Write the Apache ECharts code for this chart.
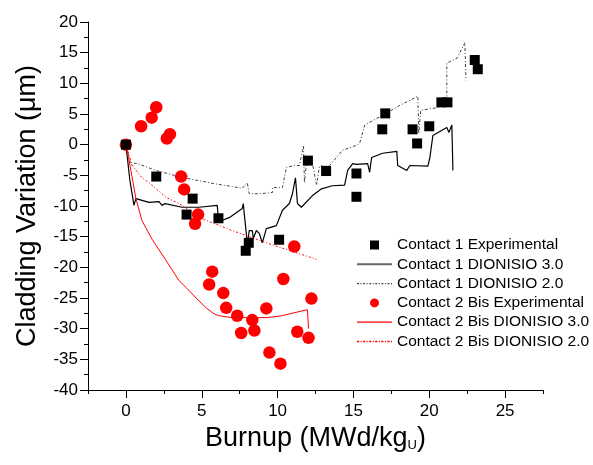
<!DOCTYPE html>
<html>
<head>
<meta charset="utf-8">
<script src="https://cdn.jsdelivr.net/npm/echarts@6/dist/echarts.min.js"></script>
<style>html,body{margin:0;padding:0;background:#fff}#c{width:593px;height:465px}</style>
</head>
<body>
<div id="c"></div>
<script>
// ---- data (burnup MWd/kgU, cladding variation µm) ----
const c1Exp = [[0,0],[2.0,-5.2],[4.4,-8.8],[4.0,-11.4],[6.1,-12.0],[8.1,-16.0],[7.9,-17.3],[10.1,-15.5],[12.0,-2.6],[13.2,-4.3],[15.2,-4.7],[15.2,-8.5],[17.1,5.1],[16.9,2.5],[18.9,2.5],[19.2,0.2],[20.0,3.0],[20.8,6.9],[21.2,6.9],[23.0,13.8],[23.2,12.3]];
const c1D30 = [[0,0],[0.26,-5.8],[0.53,-9.9],[0.66,-8.8],[1.52,-9.4],[2.18,-9.3],[2.38,-9.9],[2.58,-9.6],[3.70,-10.2],[4.83,-10.2],[6.02,-9.9],[6.08,-11.6],[6.28,-12.4],[6.81,-11.9],[7.67,-10.4],[7.74,-9.6],[7.80,-11.2],[7.94,-14.5],[8.0,-16.4],[8.13,-14.0],[8.33,-14.0],[8.40,-15.3],[8.60,-14.0],[8.80,-14.5],[8.99,-16.0],[9.26,-13.7],[9.92,-13.2],[10.32,-10.7],[10.78,-9.6],[10.98,-8.0],[11.18,-5.4],[11.31,-9.6],[11.57,-10.2],[12.30,-8.3],[12.9,-7.2],[13.6,-6.7],[14.42,-6.6],[14.62,-4.2],[14.95,-3.1],[15.21,-3.2],[15.94,-3.1],[16.07,-4.5],[16.20,-2.1],[16.93,-1.4],[17.86,-1.1],[17.92,-3.4],[18.52,-4.2],[18.72,-3.4],[19.91,-3.5],[20.04,-2.1],[20.24,1.5],[21.16,2.8],[21.30,2.0],[21.49,3.2],[21.56,-4.2]];
const c1D20 = [[0,0],[0.33,-3.3],[0.66,-3.0],[1.98,-4.2],[3.64,-5.3],[5.69,-6.3],[7.67,-7.1],[8.0,-6.2],[8.13,-8.0],[8.80,-8.0],[9.66,-7.8],[9.66,-7.0],[10.32,-7.0],[10.58,-3.7],[11.11,-3.4],[11.44,-3.4],[11.71,-0.1],[11.77,-6.2],[11.90,-3.1],[12.30,-3.1],[12.57,-6.6],[12.76,-3.5],[13.43,-3.4],[14.29,-0.9],[15.21,-0.1],[15.41,0.2],[15.74,3.2],[16.93,4.8],[18.06,6.4],[19.25,7.9],[19.31,1.8],[19.44,5.6],[20.7,6.1],[21.16,7.2],[21.16,13.3],[21.83,14.1],[22.35,16.6],[22.42,10.5]];
const c2Exp = [[0,0],[1.0,3.0],[1.7,4.4],[2.0,6.1],[2.7,1.0],[2.9,1.7],[3.64,-5.2],[3.84,-7.3],[4.76,-11.4],[4.56,-12.9],[11.1,-16.6],[5.69,-20.7],[5.49,-22.8],[6.42,-24.2],[6.61,-26.6],[7.34,-27.9],[8.33,-28.6],[7.6,-30.7],[8.47,-30.3],[9.26,-26.7],[10.38,-21.9],[12.23,-25.1],[11.3,-30.5],[12.04,-31.5],[9.46,-33.9],[10.19,-35.7]];
const c2D30 = [[0,0],[0.33,-4.2],[0.66,-8.8],[1.06,-12.4],[1.72,-15.4],[2.65,-18.9],[3.51,-22.2],[3.97,-23.3],[4.63,-25.0],[5.29,-26.6],[5.82,-27.6],[6.15,-27.9],[7.01,-28.2],[8.13,-28.2],[9.26,-28.2],[10.25,-27.9],[10.32,-27.6],[11.97,-26.9],[12.04,-30.0]];
const c2D20 = [[0,0],[0.40,-3.3],[1.06,-5.4],[1.52,-6.2],[2.65,-8.6],[3.51,-9.6],[4.83,-11.9],[7.01,-14.0],[9.26,-16.0],[12.57,-18.7]];
const xMajor = [0,5,10,15,20,25];
const xMinor = [-2.5,2.5,7.5,12.5,17.5,22.5,27.5];
const names = ['Contact 1 Experimental','Contact 1 DIONISIO 3.0','Contact 1 DIONISIO 2.0','Contact 2 Bis Experimental','Contact 2 Bis DIONISIO 3.0','Contact 2 Bis DIONISIO 2.0'];

// legend icon paths (line samples)
function dashPath(pattern, h){
  let s='', x=0, on=true, i=0;
  while(x<35){
    const w=pattern[i%pattern.length]; const e=Math.min(35,x+w);
    if(on) s+='M'+x+',0L'+e+',0L'+e+','+h+'L'+x+','+h+'Z';
    x=e; on=!on; i++;
  }
  return 'path://'+s;
}
const iconSolidThick = 'path://M0,0L35,0L35,2L0,2Z';
const iconSolid = 'path://M0,0L35,0L35,1.2L0,1.2Z';

const font = 'Liberation Sans, Arial, sans-serif';
const chart = echarts.init(document.getElementById('c'), null, {renderer:'canvas'});
chart.setOption({
  animation:false,
  textStyle:{fontFamily:font},
  grid:{left:88,right:50,top:22,bottom:75},
  legend:{
    orient:'vertical', left:352, top:232, itemWidth:35, itemHeight:9, itemGap:3.3,
    symbolKeepAspect:true,
    textStyle:{fontSize:15.5,color:'#000',fontFamily:font},
    data:[
      {name:names[0],icon:'path://M0,0L10,0L10,10L0,10Z',itemStyle:{color:'#000'}},
      {name:names[1],icon:iconSolidThick,itemStyle:{color:'#666'}},
      {name:names[2],icon:dashPath([2,1.5,1,1.5],1.2),itemStyle:{color:'#444'}},
      {name:names[3],icon:'circle',itemStyle:{color:'#ff0000'}},
      {name:names[4],icon:iconSolid,itemStyle:{color:'#ff0000'}},
      {name:names[5],icon:dashPath([2.2,1.4,1,1.4],1.3),itemStyle:{color:'#ff0000'}}
    ]
  },
  xAxis:[{
    type:'value', min:-2.5, max:27.5, interval:2.5,
    name:'Burnup (MWd/kg{sub|U})', nameLocation:'middle', nameGap:29,
    nameTextStyle:{fontSize:27,color:'#000',fontFamily:font,
      rich:{sub:{fontSize:13,color:'#000',fontFamily:font,padding:[14,0,0,0]}}},
    splitLine:{show:false},
    axisLine:{show:true,onZero:false,lineStyle:{color:'#000',width:1}},
    axisTick:{show:true,inside:false,length:8,customValues:xMajor,lineStyle:{color:'#000'}},
    axisLabel:{show:true,customValues:xMajor,fontSize:17,color:'#000',margin:13,fontFamily:font}
  },{
    type:'value', min:-2.5, max:27.5, interval:2.5, position:'bottom',
    splitLine:{show:false},
    axisLine:{show:false,onZero:false},
    axisTick:{show:true,inside:false,length:4,customValues:xMinor,lineStyle:{color:'#000'}},
    axisLabel:{show:false}
  }],
  yAxis:{
    type:'value', min:-40, max:20, interval:5,
    name:'Cladding Variation (\u03bcm)', nameLocation:'middle', nameGap:47,
    nameTextStyle:{fontSize:27,color:'#000',fontFamily:font},
    splitLine:{show:false},
    axisLine:{show:true,onZero:false,lineStyle:{color:'#000',width:1}},
    axisTick:{show:true,inside:false,length:8,lineStyle:{color:'#000'}},
    minorTick:{show:true,splitNumber:2,length:4,lineStyle:{color:'#000'}},
    axisLabel:{fontSize:17,color:'#000',margin:10,fontFamily:font}
  },
  series:[
    {name:names[1],type:'line',data:c1D30,symbol:'none',z:2,lineStyle:{color:'#000',width:1.2},itemStyle:{color:'#000'}},
    {name:names[2],type:'line',data:c1D20,symbol:'none',z:2,lineStyle:{color:'#444',width:1,type:[3,2,1,2]},itemStyle:{color:'#444'}},
    {name:names[4],type:'line',data:c2D30,symbol:'none',z:2,lineStyle:{color:'#ff0000',width:1},itemStyle:{color:'#ff0000'}},
    {name:names[5],type:'line',data:c2D20,symbol:'none',z:2,lineStyle:{color:'#ff0000',width:1,type:[2,2,1,2]},itemStyle:{color:'#ff0000'}},
    {name:names[0],type:'scatter',data:c1Exp,symbol:'rect',symbolSize:10,z:4,itemStyle:{color:'#000',opacity:1}},
    {name:names[3],type:'scatter',data:c2Exp,symbol:'circle',symbolSize:12.5,z:3,itemStyle:{color:'#ff0000',opacity:1}}
  ]
});
</script>
</body>
</html>
